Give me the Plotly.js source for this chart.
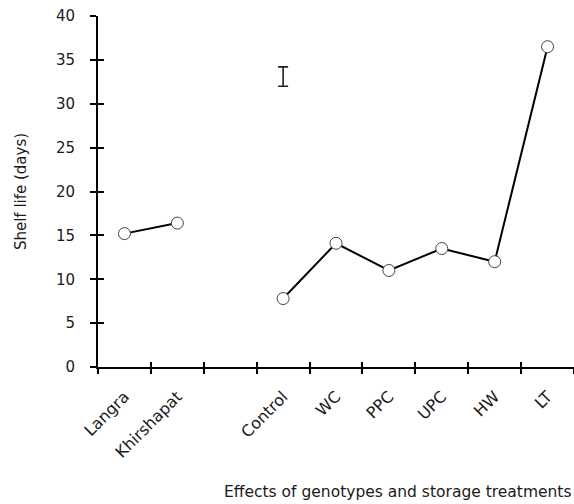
<!DOCTYPE html>
<html>
<head>
<meta charset="utf-8">
<script src="https://cdn.plot.ly/plotly-3.0.1.min.js"></script>
<style>html,body{margin:0;padding:0;background:#fff;}#chart{width:574px;height:504px;}</style>
</head>
<body>
<div id="chart"></div>
<script>
// Categories (a blank slot separates genotypes from treatments)
var allCategories = ['Langra', 'Khirshapat', ' ', 'Control', 'WC', 'PPC', 'UPC', 'HW', 'LT'];
var genotypes = ['Langra', 'Khirshapat'];
var genotypeShelfLife = [15.2, 16.4];
var treatments = ['Control', 'WC', 'PPC', 'UPC', 'HW', 'LT'];
var treatmentShelfLife = [7.8, 14.1, 11.0, 13.5, 12.0, 36.5];
// LSD bar
var lsdX = ['Control'];
var lsdY = [33.1];
var lsdHalf = [1.1];
var yTicks = [0, 5, 10, 15, 20, 25, 30, 35, 40];

var FONT = 'DejaVu Sans, Verdana, sans-serif';
var TXT = '#1a1a1a';
var lineStyle = {color: '#000', width: 2};
var markerStyle = {symbol: 'circle', size: 12, color: '#fff', line: {color: '#444', width: 1}};

var traces = [
  {x: genotypes, y: genotypeShelfLife, type: 'scatter', mode: 'lines+markers', line: lineStyle, marker: markerStyle, cliponaxis: false},
  {x: treatments, y: treatmentShelfLife, type: 'scatter', mode: 'lines+markers', line: lineStyle, marker: markerStyle, cliponaxis: false},
  {x: lsdX, y: lsdY, type: 'scatter', mode: 'markers', marker: {size: 0, opacity: 0},
   error_y: {type: 'data', array: lsdHalf, visible: true, color: '#222', thickness: 1.6, width: 5}},
  // invisible trace to activate the overlay axes for crossing ticks
  {x: genotypes, y: genotypeShelfLife, xaxis: 'x2', yaxis: 'y2', type: 'scatter', mode: 'markers', marker: {opacity: 0}, hoverinfo: 'skip'}
];

var layout = {
  width: 574, height: 504,
  margin: {l: 98, r: 0, t: 16, b: 137},
  paper_bgcolor: '#fff', plot_bgcolor: '#fff',
  showlegend: false,
  font: {family: FONT, color: TXT, size: 14},
  xaxis: {
    type: 'category', categoryorder: 'array', categoryarray: allCategories,
    range: [-0.5, 8.5], fixedrange: true,
    showline: true, linecolor: '#000', linewidth: 2,
    ticks: 'outside', ticklen: 5, tickwidth: 2, tickcolor: '#000',
    tickson: 'boundaries', tickangle: -45,
    ticklabelstandoff: 12,
    showgrid: false, zeroline: false,
    tickfont: {family: FONT, size: 16, color: TXT}
  },
  xaxis2: {
    type: 'category', categoryorder: 'array', categoryarray: allCategories,
    range: [-0.5, 8.5], overlaying: 'x', anchor: 'y', side: 'bottom',
    ticks: 'inside', ticklen: 5, tickwidth: 2, tickcolor: '#000', tickson: 'boundaries',
    showticklabels: false, showgrid: false, zeroline: false, showline: false
  },
  yaxis: {
    range: [0, 40], tickvals: yTicks, fixedrange: true,
    showline: true, linecolor: '#000', linewidth: 2,
    ticks: 'outside', ticklen: 6, tickwidth: 2, tickcolor: '#000',
    ticklabelstandoff: 12,
    showgrid: false, zeroline: false,
    tickfont: {family: FONT, size: 15, color: TXT},
    title: {text: 'Shelf life (days)', font: {family: FONT, size: 15, color: TXT}, standoff: 26}
  },
  yaxis2: {
    range: [0, 40], tickvals: yTicks, overlaying: 'y', anchor: 'x', side: 'left',
    ticks: 'inside', ticklen: 6, tickwidth: 2, tickcolor: '#000',
    showticklabels: false, showgrid: false, zeroline: false, showline: false
  },
  annotations: [{
    text: 'Effects of genotypes and storage treatments',
    xref: 'paper', yref: 'paper', x: 0.26, y: -0.355, xanchor: 'left', yanchor: 'middle',
    showarrow: false, font: {family: FONT, size: 15.5, color: TXT}
  }]
};

Plotly.newPlot('chart', traces, layout, {displayModeBar: false, staticPlot: true});
</script>
</body>
</html>
